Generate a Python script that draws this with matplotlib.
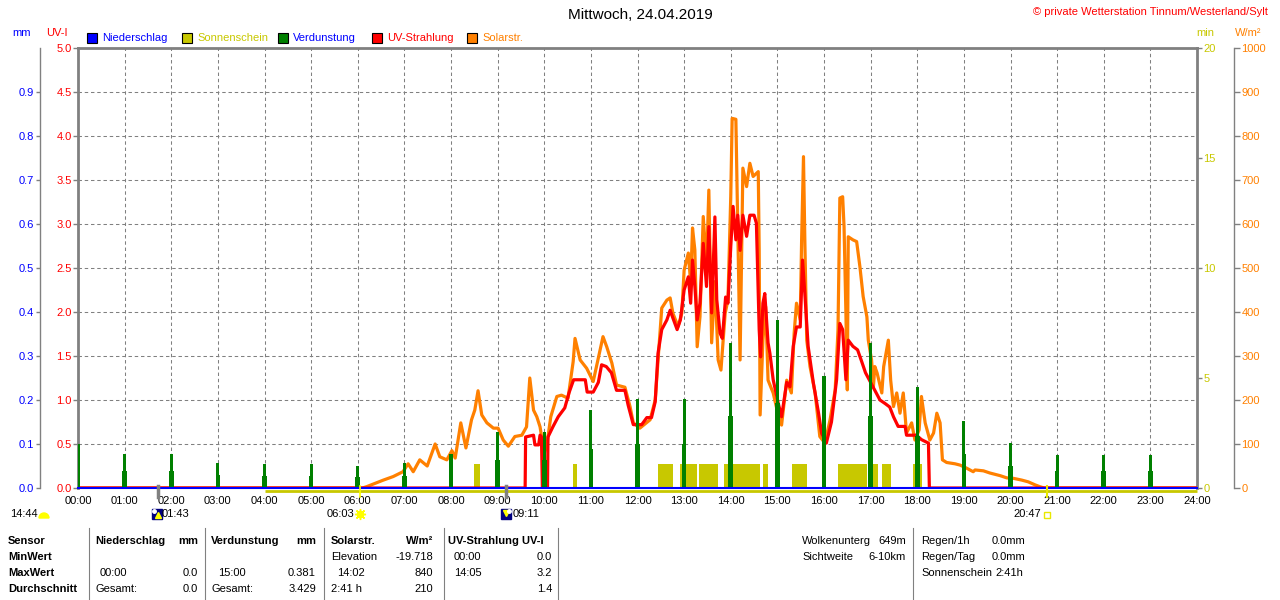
import matplotlib
matplotlib.use("Agg")
import matplotlib.pyplot as plt
from matplotlib.patches import Rectangle, Wedge
from matplotlib.transforms import blended_transform_factory, offset_copy
import numpy as np

plt.rcParams['font.family'] = ['Liberation Sans', 'DejaVu Sans']
plt.rcParams['font.size'] = 8

# ---------------- data ----------------
hours = list(range(25))
hour_labels = [f"{h:02d}:00" for h in hours]

# Solar radiation W/m²
solar_t = [0.0, 6.10, 6.19, 6.55, 6.76, 6.97, 7.08, 7.19, 7.33, 7.49, 7.66, 7.76, 7.91, 8.02, 8.09,
           8.21, 8.32, 8.44, 8.51, 8.58, 8.66, 8.77, 8.91, 9.01, 9.12, 9.23, 9.37, 9.52, 9.62, 9.69,
           9.77, 9.84, 9.91, 10.0, 10.05, 10.14, 10.27, 10.37, 10.51, 10.62, 10.66, 10.77, 10.91,
           11.05, 11.15, 11.26, 11.34, 11.45, 11.55, 11.73, 11.84, 11.91, 12.05, 12.27, 12.38, 12.44,
           12.52, 12.63, 12.70, 12.76, 12.87, 12.95, 13.00, 13.09, 13.14, 13.18, 13.23, 13.28, 13.34,
           13.41, 13.48, 13.53, 13.59, 13.66, 13.73, 13.79, 13.88, 13.94, 14.00, 14.03, 14.11, 14.14,
           14.20, 14.26, 14.34, 14.41, 14.48, 14.59, 14.61, 14.63, 14.69, 14.75, 14.80, 14.91, 15.01,
           15.09, 15.20, 15.30, 15.36, 15.41, 15.49, 15.52, 15.56, 15.59, 15.63, 15.70, 15.81, 15.91,
           16.02, 16.13, 16.24, 16.30, 16.34, 16.40, 16.43, 16.47, 16.50, 16.52, 16.62, 16.70, 16.77,
           16.84, 16.92, 16.95, 17.02, 17.06, 17.09, 17.14, 17.24, 17.28, 17.38, 17.43, 17.49, 17.56,
           17.63, 17.70, 17.77, 17.88, 17.95, 18.04, 18.09, 18.17, 18.27, 18.35, 18.42, 18.49, 18.54,
           18.63, 18.81, 18.92, 19.06, 19.20, 19.24, 19.42, 19.56, 19.78, 19.92, 20.06, 20.24, 20.38,
           20.53, 20.63, 20.72, 24.0]
solar_w = [0, 0, 3, 18, 26, 37, 55, 37, 64, 50, 100, 71, 64, 85, 68,
           148, 91, 155, 177, 221, 166, 148, 136, 136, 109, 95, 117, 120, 139, 250,
           177, 162, 139, 79, 94, 162, 208, 211, 204, 287, 340, 291, 272,
           242, 291, 344, 321, 284, 234, 229, 185, 148, 136, 155, 200, 291,
           409, 427, 432, 397, 367, 397, 495, 534, 466, 591, 541, 321, 389,
           617, 503, 677, 330, 469, 291, 268, 397, 427, 662, 840, 838, 655,
           291, 727, 685, 738, 708, 719, 541, 166, 336, 412, 245, 216, 170,
           143, 245, 216, 352, 420, 382, 564, 753, 557, 336, 276, 216, 117,
           102, 155, 223, 359, 659, 662, 594, 397, 223, 571, 564, 560, 503,
           435, 389, 336, 291, 230, 276, 261, 216, 276, 336, 245, 185, 216,
           170, 216, 125, 148, 109, 132, 208, 148, 109, 125, 170, 148, 64,
           58, 55, 52, 45, 37, 41, 39, 34, 28, 23, 22, 18, 14,
           7, 3, 0, 0]

# UV index
uv_t = [0.0, 9.59, 9.60, 9.77, 9.80, 9.88, 9.91, 9.94, 9.96, 10.07, 10.08, 10.19, 10.30, 10.44,
        10.53, 10.63, 10.88, 10.92, 11.05, 11.16, 11.23, 11.33, 11.44, 11.55, 11.73, 11.80, 11.91,
        12.09, 12.20, 12.30, 12.38, 12.44, 12.52, 12.63, 12.70, 12.76, 12.85, 12.92, 13.00, 13.09,
        13.14, 13.18, 13.23, 13.28, 13.34, 13.41, 13.48, 13.53, 13.59, 13.66, 13.70, 13.77, 13.82,
        13.89, 13.94, 14.00, 14.05, 14.11, 14.15, 14.20, 14.26, 14.34, 14.41, 14.50, 14.55, 14.61,
        14.64, 14.69, 14.73, 14.80, 14.84, 14.91, 15.02, 15.09, 15.20, 15.27, 15.34, 15.41, 15.49,
        15.54, 15.59, 15.66, 15.77, 15.88, 15.95, 16.05, 16.16, 16.27, 16.34, 16.40, 16.47, 16.52,
        16.62, 16.72, 16.80, 16.89, 16.97, 17.09, 17.20, 17.31, 17.41, 17.49, 17.59, 17.74, 17.77,
        17.98, 18.09, 18.24, 18.26, 24.0]
uv_i = [0, 0, 0.58, 0.60, 0.49, 0.49, 0.60, 0.58, 0, 0, 0.58, 0.70, 0.81, 0.91,
        1.08, 1.23, 1.23, 1.09, 1.09, 1.20, 1.40, 1.38, 1.31, 1.11, 1.11, 0.94, 0.72,
        0.72, 0.80, 0.80, 0.98, 1.53, 1.80, 1.91, 2.02, 1.93, 1.80, 1.91, 2.25, 2.40,
        2.10, 2.59, 2.29, 1.91, 2.10, 2.78, 2.29, 2.97, 1.99, 3.08, 2.14, 1.76, 1.70,
        2.17, 2.10, 2.74, 3.20, 2.82, 3.10, 2.70, 3.10, 2.86, 3.10, 3.10, 3.01, 1.80,
        1.49, 2.10, 2.21, 1.65, 1.53, 1.23, 0.96, 0.81, 1.20, 1.15, 1.61, 1.83, 1.83,
        2.59, 2.20, 1.61, 1.20, 0.86, 0.62, 0.51, 0.75, 1.23, 1.87, 1.80, 1.23, 1.68,
        1.61, 1.57, 1.45, 1.31, 1.23, 1.11, 1.00, 0.96, 0.92, 0.81, 0.70, 0.70, 0.60,
        0.60, 0.55, 0.51, 0, 0]

# Evaporation mm per hour mark (main and lower part)
evap_h = list(range(24))
evap_main = [0.100, 0.077, 0.077, 0.057, 0.055, 0.055, 0.050, 0.057, 0.077, 0.127, 0.127, 0.177,
             0.202, 0.202, 0.330, 0.381, 0.255, 0.330, 0.230, 0.152, 0.102, 0.075, 0.075, 0.075]
evap_low = [0.050, 0.039, 0.039, 0.030, 0.028, 0.028, 0.025, 0.028, 0.039, 0.064, 0.064, 0.089,
            0.100, 0.100, 0.164, 0.193, 0.127, 0.164, 0.118, 0.077, 0.050, 0.039, 0.039, 0.039]

# Precipitation (mm) - none
precip_t = [0, 24]
precip_mm = [0.0, 0.0]

# Sunshine periods (hours) and minutes per interval
sun_start = [8.49, 10.62, 12.44, 12.91, 13.32, 13.86, 14.69, 15.31, 16.30, 17.01, 17.24, 17.91]
sun_end = [8.62, 10.70, 12.76, 13.28, 13.73, 14.63, 14.80, 15.64, 16.92, 17.16, 17.44, 18.10]
sun_min = [1.1] * 12
daylight_start = 4.0

# Events below axis
events = ["01:43", "06:03", "09:11", "20:47"]

# colours
GREY = '#808080'
ORANGE = '#ff8000'
RED = '#ff0000'
GREEN = '#008000'
BLUE = '#0000ff'
OLIVE = '#c8c800'

# ---------------- figure ----------------
fig = plt.figure(figsize=(12.8, 6), dpi=100)
fig.patch.set_facecolor('white')
L, B, W, H = 78 / 1280, 1 - 488 / 600, 1119 / 1280, 440 / 600
host = fig.add_axes([L, B, W, H])
ax_sun = host.twinx()
ax_uv = host.twinx()
ax_mm = host.twinx()

host.set_zorder(1)
ax_sun.set_zorder(2)
ax_uv.set_zorder(3)
ax_mm.set_zorder(4)
for a in (ax_sun, ax_uv, ax_mm):
    a.patch.set_visible(False)

host.set_xlim(0, 24)
host.set_ylim(0, 1000)
ax_sun.set_ylim(0, 20)
ax_uv.set_ylim(0, 5)
ax_mm.set_ylim(0, 1)

# grid on host
host.set_xticks(hours)
host.set_xticklabels(hour_labels)
host.tick_params(axis='x', length=0, pad=6, labelsize=8, colors='black')
host.set_yticks(np.arange(0, 1001, 100))
host.grid(True, color=GREY, linestyle=(0, (3.3, 2.7)), linewidth=0.75)
host.set_axisbelow(True)

# spines
for a in (host, ax_sun, ax_uv, ax_mm):
    for s in a.spines.values():
        s.set_visible(False)
host.spines['top'].set_visible(True)
host.spines['top'].set_color(GREY)
host.spines['top'].set_linewidth(2.0)

# W/m² axis (host, right, outward)
host.yaxis.tick_right()
host.spines['right'].set_visible(True)
host.spines['right'].set_position(('outward', 26.6))
host.spines['right'].set_color(GREY)
host.spines['right'].set_linewidth(1.0)
host.tick_params(axis='y', which='both', direction='out', length=4.3, width=1, color=GREY,
                 labelcolor=ORANGE, pad=1, labelsize=8, left=False, labelleft=False,
                 right=True, labelright=True)
host.set_yticklabels([str(v) for v in range(0, 1001, 100)])

# min axis (right, plot edge)
ax_sun.yaxis.tick_right()
ax_sun.spines['right'].set_visible(True)
ax_sun.spines['right'].set_color(GREY)
ax_sun.spines['right'].set_linewidth(2.0)
ax_sun.set_yticks([0, 5, 10, 15, 20])
ax_sun.tick_params(axis='y', direction='out', length=3.6, width=1, color=GREY,
                   labelcolor=OLIVE, pad=1, labelsize=8)

# UV axis (left, plot edge)
ax_uv.yaxis.tick_left()
ax_uv.spines['left'].set_visible(True)
ax_uv.spines['left'].set_color(GREY)
ax_uv.spines['left'].set_linewidth(2.0)
ax_uv.set_yticks(np.arange(0, 5.01, 0.5))
ax_uv.set_yticklabels([f"{v:.1f}" for v in np.arange(0, 5.01, 0.5)])
ax_uv.tick_params(axis='y', direction='out', length=3.6, width=1, color=GREY,
                  labelcolor=RED, pad=1, labelsize=8, right=False, labelright=False,
                  left=True, labelleft=True)

# mm axis (left, outward)
ax_mm.yaxis.tick_left()
ax_mm.spines['left'].set_visible(True)
ax_mm.spines['left'].set_position(('outward', 27.4))
ax_mm.spines['left'].set_color(GREY)
ax_mm.spines['left'].set_linewidth(1.0)
ax_mm.set_yticks(np.arange(0, 0.91, 0.1))
ax_mm.set_yticklabels([f"{v:.1f}" for v in np.arange(0, 0.91, 0.1)])
ax_mm.tick_params(axis='y', direction='out', length=2.9, width=1, color=GREY,
                  labelcolor=BLUE, pad=1.4, labelsize=8, right=False, labelright=False,
                  left=True, labelleft=True)

# ---------------- series ----------------
host.plot(solar_t, solar_w, color=ORANGE, lw=2.3, solid_joinstyle='round', zorder=3)
ax_sun.bar(sun_start, sun_min, width=np.array(sun_end) - np.array(sun_start), align='edge',
           color=OLIVE, linewidth=0, zorder=2)
ax_sun.plot([daylight_start, 24], [0, 0], color=OLIVE, lw=2.0, clip_on=False, solid_capstyle='butt',
            transform=offset_copy(ax_sun.transData, fig=fig, x=0, y=-2.5, units='dots'))
ax_uv.plot(uv_t, uv_i, color=RED, lw=2.3, solid_joinstyle='round', zorder=3)
ax_mm.bar(evap_h, evap_low, width=0.1, color=GREEN, linewidth=0, zorder=2)
ax_mm.bar(evap_h, evap_main, width=0.065, color=GREEN, linewidth=0, zorder=2)
ax_mm.plot(precip_t, precip_mm, color=BLUE, lw=1.5, clip_on=False, zorder=5)

# ---------------- overlay annotations ----------------
ov = fig.add_axes([0, 0, 1, 1])
ov.set_xlim(0, 1280)
ov.set_ylim(600, 0)
ov.axis('off')
ov.set_zorder(10)
ov.patch.set_visible(False)

ov.text(640, 15, "Mittwoch, 24.04.2019", ha='center', va='center', fontsize=11, color='black')
ov.text(1268, 12, "© private Wetterstation Tinnum/Westerland/Sylt", ha='right', va='center',
        fontsize=8, color=RED)

ov.text(22, 33, "mm", ha='center', va='center', color=BLUE, fontsize=8)
ov.text(57, 33, "UV-I", ha='center', va='center', color=RED, fontsize=8)
ov.text(1205, 33, "min", ha='center', va='center', color=OLIVE, fontsize=8)
ov.text(1248, 33, "W/m²", ha='center', va='center', color=ORANGE, fontsize=8)

legend_items = [("Niederschlag", BLUE, BLUE, 87), ("Sonnenschein", OLIVE, OLIVE, 182),
                ("Verdunstung", GREEN, BLUE, 278), ("UV-Strahlung", RED, RED, 372),
                ("Solarstr.", ORANGE, ORANGE, 467)]
for name, fc, tc, x0 in legend_items:
    ov.add_patch(Rectangle((x0, 33), 10, 10, facecolor=fc, edgecolor='black', lw=0.8))
    ov.text(x0 + 15, 38, name, ha='left', va='center', color=tc, fontsize=8)

# event markers and labels
bt = blended_transform_factory(host.transData, ov.transData)
ev_h = [int(e[:2]) + int(e[3:]) / 60 for e in events]
ev_col = [GREY, '#ffff00', GREY, '#e8e800']
ev_lw = [2.5, 1.2, 2.5, 1.5]
for h, c, lw in zip(ev_h, ev_col, ev_lw):
    ov.plot([h, h], [486, 497], color=c, lw=lw, transform=bt, zorder=1)


def off(dx, dy=0):
    return offset_copy(bt, fig=fig, x=dx, y=-dy, units='dots')


# 01:43 moonrise
ov.text(ev_h[0], 514, events[0], transform=off(4), ha='left', va='center', fontsize=8)
ov.plot([ev_h[0]], [514], marker='s', markersize=7.5, color='#000080', transform=off(-1), zorder=2)
ov.plot([ev_h[0]], [514], marker='^', markersize=4, color='#ffff00', transform=off(0, 1), zorder=3)
ov.plot([ev_h[0]], [514], marker='o', markersize=2.5, color='white', transform=off(-4, -3), zorder=3)
# 06:03 sunrise
ov.text(ev_h[1], 514, events[1], transform=off(-6), ha='right', va='center', fontsize=8)
ov.plot([ev_h[1]], [514], marker=(8, 2, 0), markersize=8, color='#ffff00', mew=1, transform=off(0), zorder=3)
ov.plot([ev_h[1]], [514], marker='o', markersize=4.5, color='#ffff00', transform=off(0), zorder=3)
# 09:11 moonset
ov.text(ev_h[2], 514, events[2], transform=off(6), ha='left', va='center', fontsize=8)
ov.plot([ev_h[2]], [514], marker='s', markersize=7.5, color='#000080', transform=off(0), zorder=2)
ov.plot([ev_h[2]], [514], marker='v', markersize=4, color='#ffff00', transform=off(0, -1), zorder=3)
ov.plot([ev_h[2]], [514], marker='o', markersize=2.5, color='white', transform=off(3, -3), zorder=3)
# 20:47 sunset
ov.text(ev_h[3], 514, events[3], transform=off(-6), ha='right', va='center', fontsize=8)
ov.plot([ev_h[3]], [515], marker='s', markersize=4, markerfacecolor='white',
        markeredgecolor='#e8e800', mew=1, transform=off(0), zorder=3)

# 14:44 with yellow dome
ov.text(10, 514, "14:44", ha='left', va='center', fontsize=8)
ov.add_patch(Wedge((44, 518), 5, 180, 360, color='#ffff00'))

# ---------------- table ----------------
rows = [541, 557, 573, 589]
for x in [89, 205, 324, 444, 558, 913]:
    ov.plot([x, x], [528, 600], color=GREY, lw=0.8)

bold_left = [(8, 0, "Sensor"), (8, 1, "MinWert"), (8, 2, "MaxWert"), (8, 3, "Durchschnitt"),
             (95, 0, "Niederschlag"), (211, 0, "Verdunstung"), (331, 0, "Solarstr."),
             (448, 0, "UV-Strahlung UV-I")]
bold_right = [(198, 0, "mm"), (316, 0, "mm"), (433, 0, "W/m²")]
norm_left = [(100, 2, "00:00"), (95, 3, "Gesamt:"), (218, 2, "15:00"), (211, 3, "Gesamt:"),
             (331, 1, "Elevation"), (337, 2, "14:02"), (331, 3, "2:41 h"),
             (454, 1, "00:00"), (454, 2, "14:05"),
             (802, 0, "Wolkenunterg"), (802, 1, "Sichtweite"),
             (921, 0, "Regen/1h"), (921, 1, "Regen/Tag"), (921, 2, "Sonnenschein"),
             (992, 0, "0.0mm"), (992, 1, "0.0mm")]
norm_right = [(198, 2, "0.0"), (198, 3, "0.0"), (316, 2, "0.381"), (316, 3, "3.429"),
              (433, 1, "-19.718"), (433, 2, "840"), (433, 3, "210"),
              (552, 1, "0.0"), (552, 2, "3.2"), (552, 3, "1.4"),
              (906, 0, "649m"), (906, 1, "6-10km"), (1023, 2, "2:41h")]
for x, r, t in bold_left:
    ov.text(x, rows[r], t, ha='left', va='center', fontsize=8, fontweight='bold')
for x, r, t in bold_right:
    ov.text(x, rows[r], t, ha='right', va='center', fontsize=8, fontweight='bold')
for x, r, t in norm_left:
    ov.text(x, rows[r], t, ha='left', va='center', fontsize=8)
for x, r, t in norm_right:
    ov.text(x, rows[r], t, ha='right', va='center', fontsize=8)

fig.savefig("out.png", dpi=100)
